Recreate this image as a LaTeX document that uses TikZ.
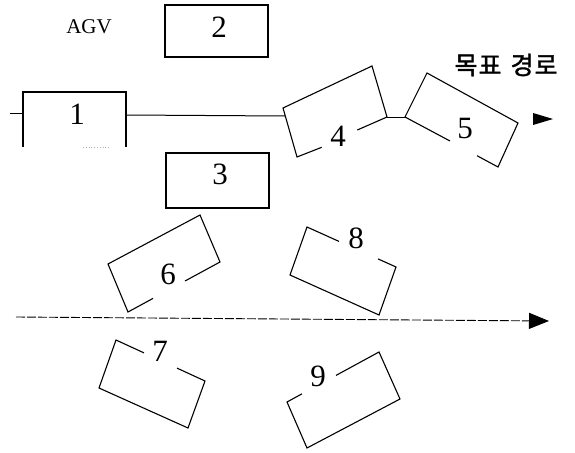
\documentclass[tikz,border=0pt]{standalone}
\usepackage{fontspec}
\newfontfamily\krfont[FakeBold=1.5]{Noto Sans CJK KR}
\newfontfamily\numfont{Liberation Serif}
\usetikzlibrary{arrows.meta,calc}
\begin{document}
\begin{tikzpicture}[x=1pt,y=-1pt,
  box/.style={line width=1.1pt, line join=miter},
  conn/.style={line width=1pt},
  num/.style={font=\numfont\fontsize{31}{34}\selectfont, inner sep=0pt},
  lbl/.style={font=\numfont\fontsize{21}{24}\selectfont, inner sep=0pt},
  krlbl/.style={font=\krfont\fontsize{25}{28}\selectfont, inner sep=0pt}]
\useasboundingbox (0,0) rectangle (575,452);

% labels
\node[lbl] (agv) at (89,27) {AGV};
\node[krlbl] (goal) at (506,65) {목\hspace{1pt}표\hspace{9pt}경\hspace{1pt}로};

% box 1
\draw[box] (23,147) -- (23,92) -- (126,92) -- (126,147);
\draw[line width=0.8pt, gray!60, dotted] (83,147) -- (110,147);
\node[num] (n1) at (77,114) {1};
% box 2
\draw[box] (165,5) rectangle (268,57);
\node[num] (n2) at (219,27.5) {2};
% box 3
\draw[box] (166,153) rectangle (269,208);
\node[num] (n3) at (220,174) {3};
% box 4
\draw[box] (321.7,147.3) -- (297,157) -- (283,108) -- (372,66) -- (387,117) -- (357.3,130);
\node[num] (n4) at (338,136) {4};
% box 5
\draw[box] (450,141) -- (405,117) -- (427,73) -- (518,123) -- (498,167) -- (477,155.7);
\node[num] (n5) at (465,129) {5};
% box 6
\draw[box] (153,298.4) -- (128,312) -- (108,264) -- (200,215) -- (220,262) -- (185,281);
\node[num] (n6) at (168,274) {6};
% box 7
\draw[box] (144,352.9) -- (116,340) -- (99,388) -- (188,428) -- (205,381) -- (177,368.1);
\node[num] (n7) at (160,351) {7};
% box 8
\draw[box] (339,241.4) -- (307,227) -- (290,275) -- (379,315) -- (396,267) -- (378,258.9);
\node[num] (n8) at (356,238) {8};
% box 9
\draw[box] (302,393.8) -- (287,402) -- (307,448) -- (400,399) -- (379,352) -- (336,375.4);
\node[num] (n9) at (318,376) {9};

% connector coordinates
\coordinate (s0) at (10,113);
\coordinate (b1L) at (23,113);
\coordinate (b1R) at (126,115);
\coordinate (b4L) at (285,116);
\coordinate (b4R) at (387,117);
\coordinate (b5L) at (405,117);
\coordinate (a1) at (533,119);
\coordinate (a2) at (553,119);
\coordinate (p0) at (16,317);
\coordinate (p1) at (549,321);

% target path
\draw[conn] (s0) -- (b1L);
\draw[conn] (b1R) -- (b4L);
\draw[conn] (b4R) -- (b5L);
\fill ($(a1)+(0,-6)$) -- (a2) -- ($(a1)+(0,6)$) -- cycle;

% lower path
\draw[line width=0.9pt, dash pattern=on 9pt off 2pt, -{Triangle[length=20pt,width=16pt]}] (p0) -- (p1);
\end{tikzpicture}
\end{document}
